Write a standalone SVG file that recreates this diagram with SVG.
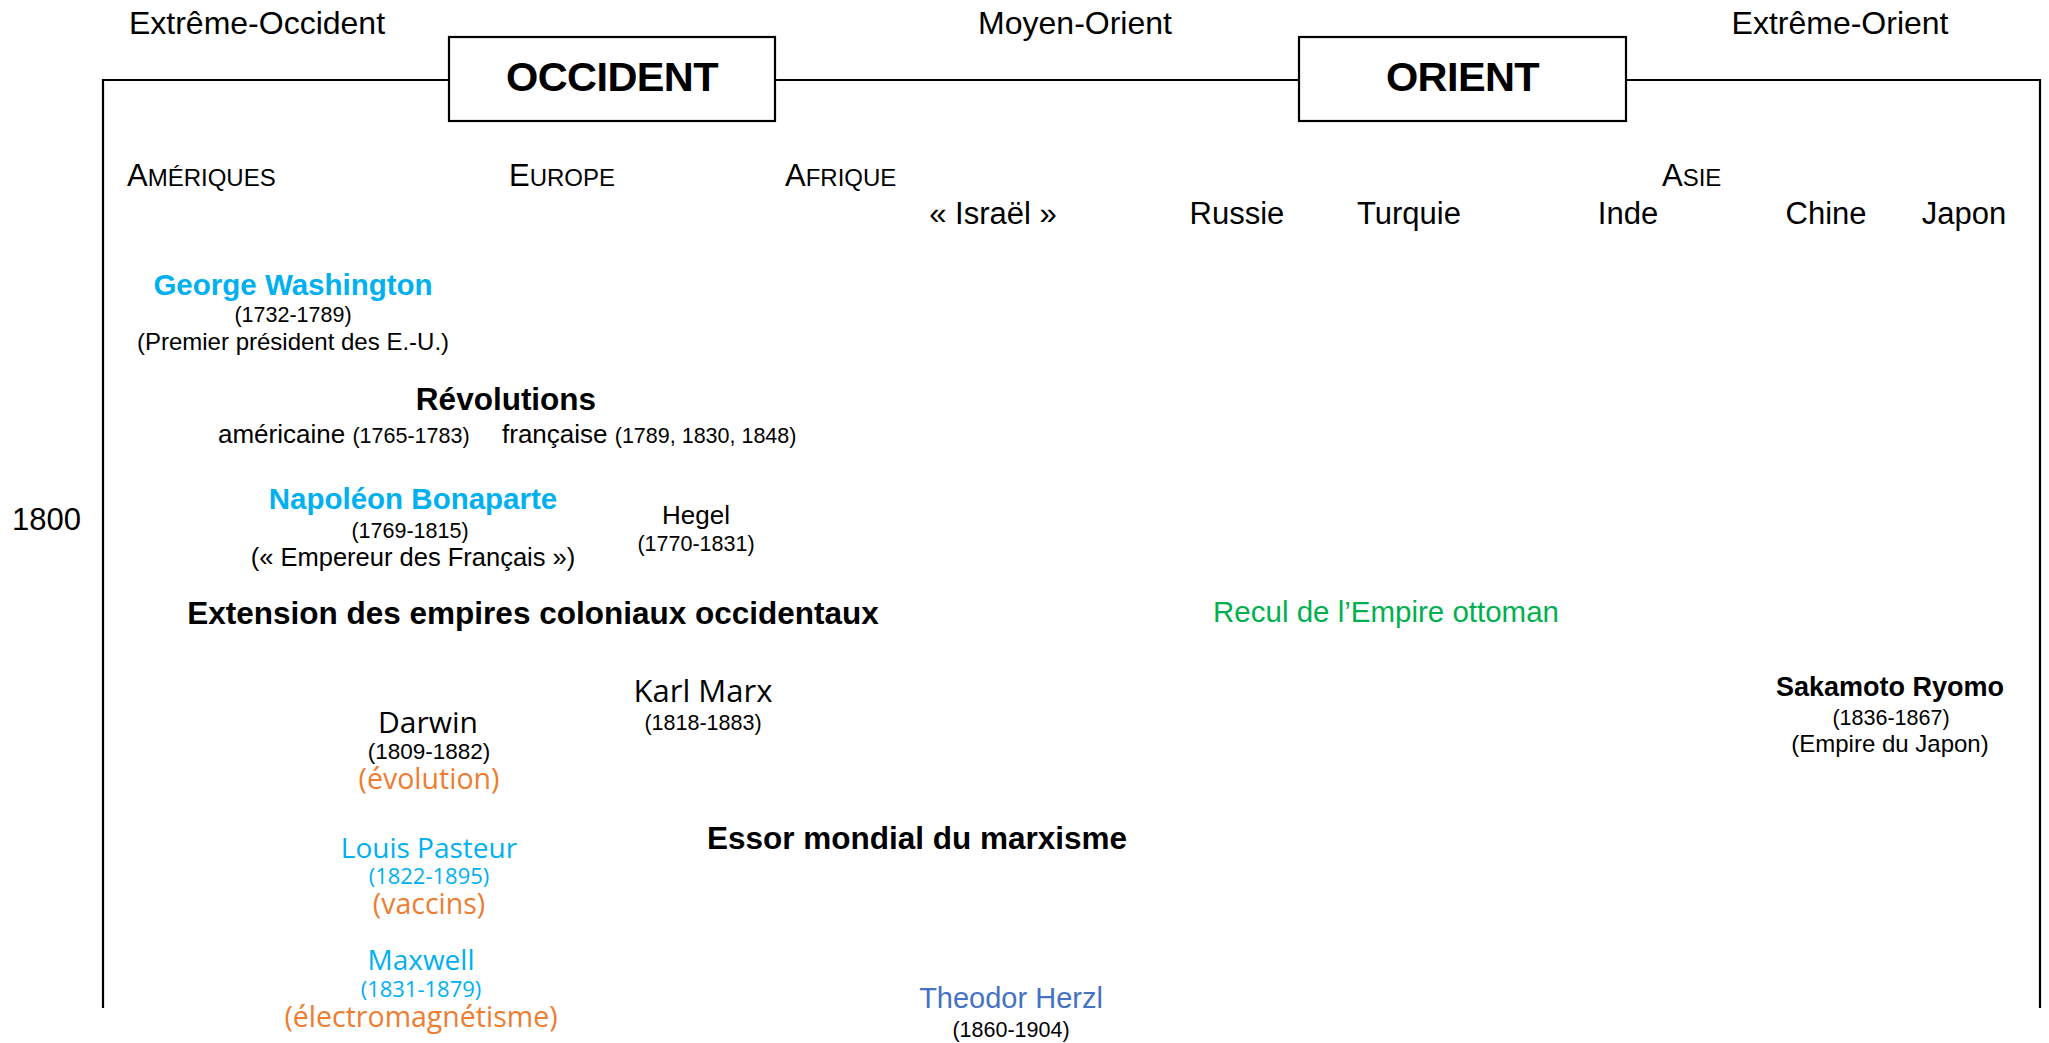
<svg xmlns="http://www.w3.org/2000/svg" width="2049" height="1043" viewBox="0 0 2049 1043">
<style>
text { font-family: "Liberation Sans", Arial, Helvetica, sans-serif; fill: #000; text-anchor: middle; }
.hum { font-family: "Open Sans", "Liberation Sans", sans-serif; }
.start { text-anchor: start; }
.hdr { font-size: 32px; }
.reg { font-size: 31px; }
.sc { font-size: 24px; }
.title { font-size: 41.5px; font-weight: bold; letter-spacing: -0.6px; }
.name { font-size: 29.5px; font-weight: bold; }
.big { font-size: 31.5px; font-weight: bold; }
.date { font-size: 21.5px; }
.desc { font-size: 24px; }
.cyan { fill: #00B0F0; }
.orange { fill: #ED7D31; }
.green { fill: #00B050; }
.blue { fill: #4472C4; }
.box { fill: #fff; stroke: #000; stroke-width: 2.2; }
.line { fill: none; stroke: #000; stroke-width: 2.2; }
</style>

<g id="connectors">
  <path class="line" d="M103,1008 V80 H449"/>
  <path class="line" d="M775,80 H1299"/>
  <path class="line" d="M1626,80 H2040 V1008"/>
</g>

<g id="header-extreme-occident"><text class="hdr" x="257" y="34">Extrême-Occident</text></g>
<g id="header-moyen-orient"><text class="hdr" x="1075" y="34">Moyen-Orient</text></g>
<g id="header-extreme-orient"><text class="hdr" x="1840" y="34">Extrême-Orient</text></g>

<g id="box-occident">
  <rect class="box" x="449" y="37" width="326" height="84"/>
  <text class="title" x="612" y="91">OCCIDENT</text>
</g>
<g id="box-orient">
  <rect class="box" x="1299" y="37" width="327" height="84"/>
  <text class="title" x="1462.5" y="91">ORIENT</text>
</g>

<g id="region-ameriques"><text class="reg start" x="127" y="186">A<tspan class="sc">MÉRIQUES</tspan></text></g>
<g id="region-europe"><text class="reg start" x="509" y="186">E<tspan class="sc">UROPE</tspan></text></g>
<g id="region-afrique"><text class="reg start" x="785" y="186">A<tspan class="sc">FRIQUE</tspan></text></g>
<g id="region-asie"><text class="reg start" x="1662" y="186">A<tspan class="sc">SIE</tspan></text></g>

<g id="country-israel"><text class="reg" x="993" y="224">« Israël »</text></g>
<g id="country-russie"><text class="reg" x="1237" y="224">Russie</text></g>
<g id="country-turquie"><text class="reg" x="1409" y="224">Turquie</text></g>
<g id="country-inde"><text class="reg" x="1628" y="224">Inde</text></g>
<g id="country-chine"><text class="reg" x="1826" y="224">Chine</text></g>
<g id="country-japon"><text class="reg" x="1964" y="224">Japon</text></g>

<g id="year-1800"><text class="reg" x="46.5" y="530">1800</text></g>

<g id="george-washington">
  <text class="name cyan" x="293" y="295">George Washington</text>
  <text class="date" x="293" y="322">(1732-1789)</text>
  <text class="desc" x="293" y="350">(Premier président des E.-U.)</text>
</g>

<g id="revolutions">
  <text class="big" x="506" y="410">Révolutions</text>
  <text class="start" x="218" y="443" font-size="26">américaine <tspan class="date">(1765-1783)</tspan></text>
  <text class="start" x="502" y="443" font-size="26">française <tspan class="date">(1789, 1830, 1848)</tspan></text>
</g>

<g id="napoleon">
  <text class="name cyan" x="413" y="509">Napoléon Bonaparte</text>
  <text class="date" x="410" y="538">(1769-1815)</text>
  <text x="413" y="566" font-size="25.5">(« Empereur des Français »)</text>
</g>

<g id="hegel">
  <text x="696" y="524" font-size="26">Hegel</text>
  <text class="date" x="696" y="551">(1770-1831)</text>
</g>

<g id="extension-empires"><text class="big" x="533" y="624">Extension des empires coloniaux occidentaux</text></g>

<g id="recul-ottoman"><text class="green" x="1386" y="622" font-size="29.5">Recul de l’Empire ottoman</text></g>

<g id="karl-marx">
  <text class="hum" x="703" y="702" font-size="31">Karl Marx</text>
  <text class="date" x="703" y="730">(1818-1883)</text>
</g>

<g id="sakamoto-ryomo">
  <text x="1890" y="696" font-size="27" font-weight="bold">Sakamoto Ryomo</text>
  <text class="date" x="1891" y="725">(1836-1867)</text>
  <text class="desc" x="1890" y="752">(Empire du Japon)</text>
</g>

<g id="darwin">
  <text class="hum" x="428" y="733" font-size="30">Darwin</text>
  <text x="429" y="759" font-size="22.5">(1809-1882)</text>
  <text class="hum orange" x="429" y="789" font-size="28.5">(évolution)</text>
</g>

<g id="essor-marxisme"><text class="big" x="917" y="849">Essor mondial du marxisme</text></g>

<g id="louis-pasteur">
  <text class="hum cyan" x="429" y="858" font-size="28">Louis Pasteur</text>
  <text class="hum cyan" x="429" y="884" font-size="22">(1822-1895)</text>
  <text class="hum orange" x="429" y="914" font-size="28.5">(vaccins)</text>
</g>

<g id="maxwell">
  <text class="hum cyan" x="421" y="970" font-size="28">Maxwell</text>
  <text class="hum cyan" x="421" y="997" font-size="22">(1831-1879)</text>
  <text class="hum orange" x="421" y="1027" font-size="28.5">(électromagnétisme)</text>
</g>

<g id="theodor-herzl">
  <text class="blue" x="1011" y="1008" font-size="29">Theodor Herzl</text>
  <text class="date" x="1011" y="1037">(1860-1904)</text>
</g>
</svg>
